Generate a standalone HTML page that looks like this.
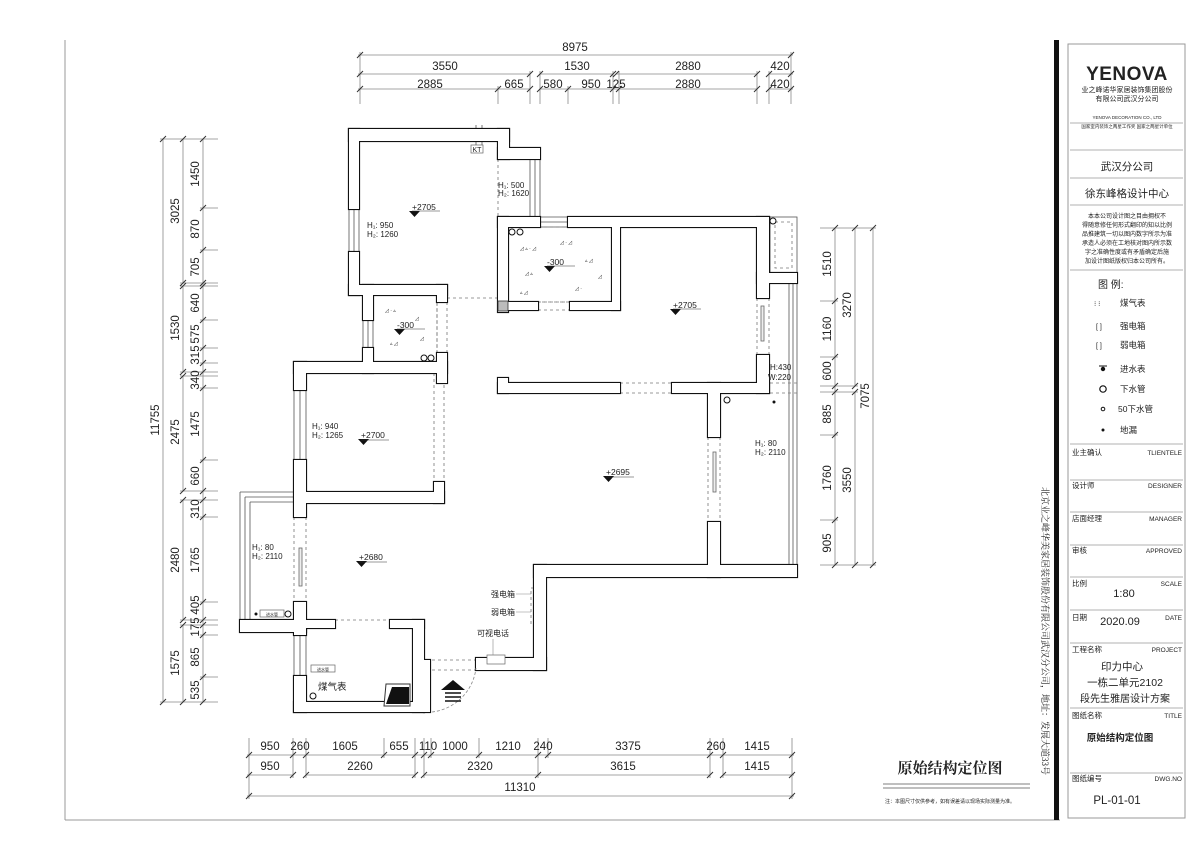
<!DOCTYPE html>
<html><head><meta charset="utf-8">
<style>
html,body{margin:0;padding:0;background:#fff;}
svg{display:block;}
text{font-family:"Liberation Sans","Noto Sans CJK SC",sans-serif;fill:#222;}
.s{font-family:"Liberation Serif","Noto Serif CJK SC",serif;}
</style></head><body>
<svg width="1200" height="848" viewBox="0 0 1200 848" xmlns="http://www.w3.org/2000/svg">
<rect width="1200" height="848" fill="#fff"/>
<!-- frame -->
<g stroke="#999" stroke-width="1" fill="none">
<line x1="65" y1="40" x2="65" y2="820"/>
<line x1="65" y1="820" x2="1060" y2="820"/>
<rect x="1068" y="44" width="117" height="774"/>
</g>
<rect x="1054" y="40" width="5" height="780" fill="#111"/>

<!-- TOP DIMENSIONS -->
<g stroke="#888" stroke-width="0.8" fill="none">
<line x1="358" y1="55" x2="793" y2="55"/>
<line x1="358" y1="74" x2="530" y2="74"/><line x1="540" y1="74" x2="613" y2="74"/><line x1="616" y1="74" x2="757" y2="74"/><line x1="769" y1="74" x2="793" y2="74"/>
<line x1="358" y1="89" x2="530" y2="89"/><line x1="540" y1="89" x2="619" y2="89"/><line x1="619" y1="89" x2="757" y2="89"/><line x1="769" y1="89" x2="793" y2="89"/>
<line x1="360" y1="52" x2="360" y2="104"/><line x1="791" y1="52" x2="791" y2="104"/>
<line x1="498" y1="86" x2="498" y2="104"/><line x1="530" y1="71" x2="530" y2="104"/><line x1="540" y1="71" x2="540" y2="104"/><line x1="568" y1="86" x2="568" y2="104"/><line x1="613" y1="71" x2="613" y2="104"/><line x1="619" y1="71" x2="619" y2="104"/><line x1="757" y1="71" x2="757" y2="104"/><line x1="769" y1="71" x2="769" y2="104"/>
</g>
<g stroke="#333" stroke-width="1">
<path d="M357 58l6-6M788 58l6-6M357 77l6-6M527 77l6-6M537 77l6-6M610 77l6-6M613 77l6-6M754 77l6-6M766 77l6-6M788 77l6-6M357 92l6-6M495 92l6-6M527 92l6-6M537 92l6-6M565 92l6-6M610 92l6-6M616 92l6-6M754 92l6-6M766 92l6-6M788 92l6-6"/>
</g>
<g font-size="11.5" text-anchor="middle">
<text x="575" y="51">8975</text>
<text x="445" y="70">3550</text><text x="577" y="70">1530</text><text x="688" y="70">2880</text><text x="780" y="70">420</text>
<text x="430" y="88">2885</text><text x="514" y="88">665</text><text x="553" y="88">580</text><text x="591" y="88">950</text><text x="616" y="88">125</text><text x="688" y="88">2880</text><text x="780" y="88">420</text>
</g>

<!-- LEFT DIMENSIONS -->
<g stroke="#888" stroke-width="0.8" fill="none">
<line x1="163" y1="139" x2="163" y2="702"/>
<line x1="183" y1="139" x2="183" y2="283"/><line x1="183" y1="286" x2="183" y2="372"/><line x1="183" y1="376" x2="183" y2="491"/><line x1="183" y1="500" x2="183" y2="620"/><line x1="183" y1="625" x2="183" y2="702"/>
<line x1="203" y1="139" x2="203" y2="702"/>
<path d="M160 139H218M160 702H218M180 283H218M180 286H218M180 372H218M180 376H218M180 491H218M180 500H218M180 620H218M180 625H218M200 208H218M200 250H218M200 320H218M200 348H218M200 363H218M200 388H218M200 460H218M200 517H218M200 602H218M200 635H218M200 677H218"/>
</g>
<g stroke="#333" stroke-width="1">
<path d="M160 142l6-6M160 705l6-6M180 142l6-6M180 286l6-6M180 289l6-6M180 375l6-6M180 379l6-6M180 494l6-6M180 503l6-6M180 623l6-6M180 628l6-6M180 705l6-6M200 142l6-6M200 211l6-6M200 253l6-6M200 286l6-6M200 289l6-6M200 323l6-6M200 351l6-6M200 366l6-6M200 375l6-6M200 391l6-6M200 463l6-6M200 494l6-6M200 503l6-6M200 520l6-6M200 605l6-6M200 623l6-6M200 628l6-6M200 638l6-6M200 680l6-6M200 705l6-6"/>
</g>
<g font-size="11.5" text-anchor="middle">
<text transform="translate(159,420) rotate(-90)">11755</text>
<text transform="translate(179,211) rotate(-90)">3025</text>
<text transform="translate(179,328) rotate(-90)">1530</text>
<text transform="translate(179,432) rotate(-90)">2475</text>
<text transform="translate(179,560) rotate(-90)">2480</text>
<text transform="translate(179,663) rotate(-90)">1575</text>
<text transform="translate(199,174) rotate(-90)">1450</text>
<text transform="translate(199,229) rotate(-90)">870</text>
<text transform="translate(199,267) rotate(-90)">705</text>
<text transform="translate(199,303) rotate(-90)">640</text>
<text transform="translate(199,334) rotate(-90)">575</text>
<text transform="translate(199,355) rotate(-90)">315</text>
<text transform="translate(199,380) rotate(-90)">340</text>
<text transform="translate(199,424) rotate(-90)">1475</text>
<text transform="translate(199,476) rotate(-90)">660</text>
<text transform="translate(199,509) rotate(-90)">310</text>
<text transform="translate(199,560) rotate(-90)">1765</text>
<text transform="translate(199,605) rotate(-90)">405</text>
<text transform="translate(199,627) rotate(-90)">175</text>
<text transform="translate(199,657) rotate(-90)">865</text>
<text transform="translate(199,690) rotate(-90)">535</text>
</g>

<!-- RIGHT DIMENSIONS -->
<g stroke="#888" stroke-width="0.8" fill="none">
<line x1="835" y1="228" x2="835" y2="565"/>
<line x1="855" y1="228" x2="855" y2="386"/><line x1="855" y1="392" x2="855" y2="565"/>
<line x1="873" y1="228" x2="873" y2="565"/>
<path d="M820 228H876M820 565H876M820 301H838M820 357H838M820 386H858M820 392H858M820 435H838M820 520H838"/>
</g>
<g stroke="#333" stroke-width="1">
<path d="M832 231l6-6M832 304l6-6M832 360l6-6M832 389l6-6M832 395l6-6M832 438l6-6M832 523l6-6M832 568l6-6M852 231l6-6M852 389l6-6M852 395l6-6M852 568l6-6M870 231l6-6M870 568l6-6"/>
</g>
<g font-size="11.5" text-anchor="middle">
<text transform="translate(831,264) rotate(-90)">1510</text>
<text transform="translate(831,329) rotate(-90)">1160</text>
<text transform="translate(831,371) rotate(-90)">600</text>
<text transform="translate(831,414) rotate(-90)">885</text>
<text transform="translate(831,478) rotate(-90)">1760</text>
<text transform="translate(831,543) rotate(-90)">905</text>
<text transform="translate(851,305) rotate(-90)">3270</text>
<text transform="translate(851,480) rotate(-90)">3550</text>
<text transform="translate(869,396) rotate(-90)">7075</text>
</g>

<!-- BOTTOM DIMENSIONS -->
<g stroke="#888" stroke-width="0.8" fill="none">
<line x1="247" y1="755" x2="794" y2="755"/>
<line x1="247" y1="775" x2="293" y2="775"/><line x1="306" y1="775" x2="415" y2="775"/><line x1="424" y1="775" x2="710" y2="775"/><line x1="723" y1="775" x2="794" y2="775"/>
<line x1="247" y1="796" x2="794" y2="796"/>
<path d="M249 738V799M792 738V799M293 738V778M306 738V778M384 738V758M415 738V778M424 738V778M431 738V758M479 738V758M538 738V778M548 738V758M710 738V778M723 738V778"/>
</g>
<g stroke="#333" stroke-width="1">
<path d="M246 758l6-6M290 758l6-6M303 758l6-6M381 758l6-6M412 758l6-6M421 758l6-6M428 758l6-6M476 758l6-6M535 758l6-6M545 758l6-6M707 758l6-6M720 758l6-6M789 758l6-6M246 778l6-6M290 778l6-6M303 778l6-6M412 778l6-6M421 778l6-6M535 778l6-6M707 778l6-6M720 778l6-6M789 778l6-6M246 799l6-6M789 799l6-6"/>
</g>
<g font-size="11.5" text-anchor="middle">
<text x="270" y="750">950</text><text x="300" y="750">260</text><text x="345" y="750">1605</text><text x="399" y="750">655</text><text x="428" y="750">110</text><text x="455" y="750">1000</text><text x="508" y="750">1210</text><text x="543" y="750">240</text><text x="628" y="750">3375</text><text x="716" y="750">260</text><text x="757" y="750">1415</text>
<text x="270" y="770">950</text><text x="360" y="770">2260</text><text x="480" y="770">2320</text><text x="623" y="770">3615</text><text x="757" y="770">1415</text>
<text x="520" y="791">11310</text>
</g>

<!-- THIN LINES: balconies, glass, shaft -->
<g stroke="#555" stroke-width="0.8" fill="none">
<path d="M789 283V565M793 283V565M797 283V565"/>
<rect x="770" y="217" width="27" height="56"/>
<path d="M240 492V620M245 497V620M250 502V620M240 492H294M245 497H294M250 502H294"/>
<path d="M530 159V217M535 159V217M540 159V217"/>
<path d="M540 217H568M540 222H568M540 227H568"/>
<path d="M349 209V252M354 209V252M359 209V252"/>
<path d="M363 320V348M368 320V348M373 320V348"/>
<path d="M294 390V460M300 390V460M306 390V460"/>
<path d="M294 635V676M300 635V676M306 635V676"/>
<path d="M476 125V145M482 125V145"/>
</g>
<g stroke="#777" stroke-width="0.8" fill="none" stroke-dasharray="3,3">
<path d="M498 159V217"/>
<path d="M447 298H498"/>
<path d="M437 302V353M447 302V353"/>
<path d="M434 373V482M444 373V482"/>
<path d="M294 517V602M306 517V602"/>
<path d="M538 302H570M538 310H570"/>
<path d="M620 383H672M620 393H672"/>
<path d="M770 383H797M770 393H797"/>
<path d="M708 437V522M720 437V522"/>
<path d="M757 298V355M769 298V355"/>
<path d="M335 620H390"/>
<path d="M432 660H476M432 670H476"/>
<rect x="508" y="227" width="104" height="75"/>
<rect x="373" y="295" width="64" height="68"/>
<rect x="775" y="222" width="17" height="46"/>
<rect x="531" y="588" width="6" height="36"/>
</g>
<!-- sliding door bars -->
<g stroke="#666" stroke-width="0.8" fill="#eee">
<rect x="761" y="306" width="3" height="35"/>
<rect x="713" y="452" width="3" height="40"/>
<rect x="299" y="548" width="3" height="38"/>
</g>
<!-- speckle -->
<g fill="#999" font-size="5">
<text x="520" y="250">◿ ▵ · ◿</text><text x="560" y="244">◿ · ◿</text><text x="585" y="262">▵ ◿</text><text x="525" y="275">◿ ▵</text><text x="575" y="290">◿ ·</text><text x="520" y="294">▵ ◿</text><text x="598" y="278">◿</text>
<text x="385" y="312">◿ · ▵</text><text x="415" y="320">◿</text><text x="390" y="345">▵ ◿</text><text x="420" y="340">◿</text>
</g>

<!-- WALLS: stroke pass then fill pass -->
<g stroke="#111" stroke-width="2.2" fill="#111">
<rect x="349" y="129" width="160" height="12"/>
<rect x="498" y="129" width="11" height="30"/>
<rect x="498" y="148" width="42" height="11"/>
<rect x="349" y="129" width="10" height="80"/>
<rect x="349" y="252" width="10" height="43"/>
<rect x="349" y="285" width="98" height="10"/>
<rect x="437" y="285" width="10" height="17"/>
<rect x="437" y="353" width="10" height="30"/>
<rect x="363" y="285" width="10" height="35"/>
<rect x="363" y="348" width="10" height="25"/>
<rect x="294" y="362" width="153" height="11"/>
<rect x="294" y="362" width="12" height="28"/>
<rect x="294" y="460" width="12" height="57"/>
<rect x="294" y="602" width="12" height="33"/>
<rect x="294" y="676" width="12" height="36"/>
<rect x="306" y="492" width="138" height="11"/>
<rect x="434" y="482" width="10" height="21"/>
<rect x="240" y="620" width="66" height="12"/>
<rect x="306" y="620" width="29" height="8"/>
<rect x="390" y="620" width="34" height="8"/>
<rect x="413" y="620" width="11" height="92"/>
<rect x="294" y="702" width="130" height="10"/>
<rect x="476" y="658" width="70" height="12"/>
<rect x="534" y="565" width="12" height="105"/>
<rect x="534" y="565" width="263" height="12"/>
<rect x="708" y="522" width="12" height="55"/>
<rect x="708" y="383" width="12" height="54"/>
<rect x="498" y="217" width="42" height="10"/>
<rect x="568" y="217" width="201" height="10"/>
<rect x="757" y="217" width="12" height="81"/>
<rect x="757" y="273" width="40" height="10"/>
<rect x="757" y="355" width="12" height="38"/>
<rect x="672" y="383" width="97" height="10"/>
<rect x="498" y="383" width="122" height="10"/>
<rect x="498" y="378" width="10" height="15"/>
<rect x="498" y="217" width="10" height="95"/>
<rect x="508" y="302" width="30" height="8"/>
<rect x="570" y="302" width="50" height="8"/>
<rect x="612" y="227" width="8" height="83"/>
<rect x="424" y="660" width="6" height="52"/>
</g>
<g fill="#fff">
<rect x="349" y="129" width="160" height="12"/>
<rect x="498" y="129" width="11" height="30"/>
<rect x="498" y="148" width="42" height="11"/>
<rect x="349" y="129" width="10" height="80"/>
<rect x="349" y="252" width="10" height="43"/>
<rect x="349" y="285" width="98" height="10"/>
<rect x="437" y="285" width="10" height="17"/>
<rect x="437" y="353" width="10" height="30"/>
<rect x="363" y="285" width="10" height="35"/>
<rect x="363" y="348" width="10" height="25"/>
<rect x="294" y="362" width="153" height="11"/>
<rect x="294" y="362" width="12" height="28"/>
<rect x="294" y="460" width="12" height="57"/>
<rect x="294" y="602" width="12" height="33"/>
<rect x="294" y="676" width="12" height="36"/>
<rect x="306" y="492" width="138" height="11"/>
<rect x="434" y="482" width="10" height="21"/>
<rect x="240" y="620" width="66" height="12"/>
<rect x="306" y="620" width="29" height="8"/>
<rect x="390" y="620" width="34" height="8"/>
<rect x="413" y="620" width="11" height="92"/>
<rect x="294" y="702" width="130" height="10"/>
<rect x="476" y="658" width="70" height="12"/>
<rect x="534" y="565" width="12" height="105"/>
<rect x="534" y="565" width="263" height="12"/>
<rect x="708" y="522" width="12" height="55"/>
<rect x="708" y="383" width="12" height="54"/>
<rect x="498" y="217" width="42" height="10"/>
<rect x="568" y="217" width="201" height="10"/>
<rect x="757" y="217" width="12" height="81"/>
<rect x="757" y="273" width="40" height="10"/>
<rect x="757" y="355" width="12" height="38"/>
<rect x="672" y="383" width="97" height="10"/>
<rect x="498" y="383" width="122" height="10"/>
<rect x="498" y="378" width="10" height="15"/>
<rect x="498" y="217" width="10" height="95"/>
<rect x="508" y="302" width="30" height="8"/>
<rect x="570" y="302" width="50" height="8"/>
<rect x="612" y="227" width="8" height="83"/>
<rect x="424" y="660" width="6" height="52"/>
</g>
<rect x="498" y="301" width="10" height="10" fill="#bbb" stroke="#333" stroke-width="0.8"/>

<!-- door arc, entrance -->
<path d="M432 712 A50 50 0 0 0 476 668" stroke="#888" stroke-width="0.8" fill="none" stroke-dasharray="3,2"/>
<path d="M441 690 L453 680 L465 690 Z" fill="#111"/>
<g stroke="#111" stroke-width="1.6"><path d="M445 693H461M445 697H461M445 701H461"/></g>
<path d="M386 684H410V706H384Z" fill="#fff" stroke="#333"/>
<path d="M392 687H409V704H386Z" fill="#111"/>

<!-- pipes/circles -->
<g fill="none" stroke="#111" stroke-width="1">
<circle cx="512" cy="232" r="3"/><circle cx="520" cy="232" r="3"/>
<circle cx="424" cy="358" r="3"/><circle cx="431" cy="358" r="3"/>
<circle cx="773" cy="221" r="3"/><circle cx="727" cy="400" r="3"/>
<circle cx="313" cy="696" r="3"/><circle cx="288" cy="614" r="3"/>
</g>
<circle cx="774" cy="402" r="1.5" fill="#111"/><circle cx="256" cy="614" r="1.5" fill="#111"/>
<g stroke="#666" stroke-width="0.7" fill="#fff">
<rect x="260" y="610" width="24" height="7"/>
<rect x="311" y="665" width="24" height="7"/>
<rect x="471" y="145" width="12" height="8"/>
<rect x="487" y="655" width="18" height="9"/>
</g>
<g font-size="4" text-anchor="middle"><text x="272" y="616">进水管</text><text x="323" y="671">进水管</text></g>
<text x="477" y="152" font-size="7" text-anchor="middle">KT</text>

<!-- elevation markers -->
<g fill="#111">
<path d="M409 211h11l-5.5 6z"/><path d="M544 266h11l-5.5 6z"/><path d="M670 309h11l-5.5 6z"/>
<path d="M394 329h11l-5.5 6z"/><path d="M358 439h11l-5.5 6z"/><path d="M603 476h11l-5.5 6z"/><path d="M356 561h11l-5.5 6z"/>
</g>
<g font-size="8.5">
<text x="412" y="210">+2705</text><text x="547" y="265">-300</text><text x="673" y="308">+2705</text>
<text x="397" y="328">-300</text><text x="361" y="438">+2700</text><text x="606" y="475">+2695</text><text x="359" y="560">+2680</text>
</g>
<g stroke="#333" stroke-width="0.6"><path d="M412 211H440M547 266H575M673 309H701M397 329H425M361 440H389M606 477H634M359 562H387"/></g>
<g font-size="8">
<text x="498" y="188">H₁: 500</text><text x="498" y="196">H₂: 1620</text>
<text x="367" y="228">H₁: 950</text><text x="367" y="237">H₂: 1260</text>
<text x="312" y="429">H₁: 940</text><text x="312" y="438">H₂: 1265</text>
<text x="755" y="446">H₁: 80</text><text x="755" y="455">H₂: 2110</text>
<text x="252" y="550">H₁: 80</text><text x="252" y="559">H₂: 2110</text>
<text x="770" y="370">H:430</text><text x="768" y="380">W:220</text>
</g>
<g font-size="8">
<text x="491" y="597">强电箱</text><text x="491" y="615">弱电箱</text><text x="477" y="636">可视电话</text>
<text x="318" y="690" font-size="9.5">煤气表</text>
</g>
<g stroke="#888" stroke-width="0.6"><path d="M516 594H531M516 612H531M493 639V655"/></g>

<!-- bottom center title -->
<text x="950" y="773" font-size="15" font-weight="bold" text-anchor="middle" class="s">原始结构定位图</text>
<g stroke="#555" stroke-width="0.8"><path d="M883 784H1030M883 788H1030"/></g>
<text x="885" y="803" font-size="5">注：本图尺寸仅供参考，如有误差请以现场实际测量为准。</text>

<!-- vertical company text -->
<text transform="translate(1042,487) rotate(90)" font-size="9" class="s">北京业之峰华美家居装饰股份有限公司武汉分公司，地址：发展大道33号</text>

<!-- TITLE BLOCK -->
<text x="1127" y="80" font-size="19" font-weight="bold" text-anchor="middle" letter-spacing="0.5">YENOVA</text>
<g font-size="7" text-anchor="middle" class="s">
<text x="1127" y="92">业之峰诺华家居装饰集团股份</text>
<text x="1127" y="101">有限公司武汉分公司</text>
<text x="1127" y="119" font-size="4.5">YENOVA DECORATION CO., LTD</text>
<text x="1127" y="128" font-size="4.5">国家室内装饰之两星工作奖 国家之两星计单位</text>
</g>
<g stroke="#999" stroke-width="0.8"><path d="M1070 123H1183M1070 150H1183M1070 178H1183M1070 205H1183M1070 270H1183M1070 444H1183M1070 480H1183M1070 512H1183M1070 545H1183M1070 577H1183M1070 610H1183M1070 643H1183M1070 708H1183M1070 773H1183"/></g>
<g class="s" fill="#222">
<text x="1127" y="170" font-size="10.5" text-anchor="middle">武汉分公司</text>
<text x="1127" y="197" font-size="10.5" text-anchor="middle">徐东峰格设计中心</text>
<g font-size="6" text-anchor="middle">
<text x="1127" y="218">本本公司设计图之目由拥权不</text>
<text x="1127" y="227">得随意修任何形式翻印的知以比例</text>
<text x="1127" y="236">品推建筑一切以图内数字所示为准</text>
<text x="1127" y="245">承造人必须在工地核对图内所示数</text>
<text x="1127" y="254">字之准确性度或有矛盾确定后施</text>
<text x="1127" y="263">加设计图纸版权归本公司所有。</text>
</g>
<text x="1098" y="288" font-size="10">图 例:</text>
<g font-size="8.5">
<text x="1120" y="306">煤气表</text><text x="1120" y="329">强电箱</text><text x="1120" y="348">弱电箱</text>
<text x="1120" y="372">进水表</text><text x="1120" y="392">下水管</text><text x="1118" y="412">50下水管</text><text x="1120" y="433">地漏</text>
</g>
<g font-size="7" fill="#555"><text x="1094" y="306">⁝ ⁝</text><text x="1096" y="329">[ ]</text><text x="1096" y="348">[ ]</text></g>
<circle cx="1103" cy="369" r="2.2" fill="#111"/><path d="M1099 366H1107" stroke="#111"/>
<circle cx="1103" cy="389" r="3.2" fill="none" stroke="#111" stroke-width="1.2"/>
<circle cx="1103" cy="409" r="1.8" fill="none" stroke="#111"/>
<circle cx="1103" cy="430" r="1.5" fill="#111"/>
<g font-size="7.5">
<text x="1072" y="455">业主确认</text><text x="1182" y="455" text-anchor="end" font-size="6.5">TLIENTELE</text>
<text x="1072" y="488">设计师</text><text x="1182" y="488" text-anchor="end" font-size="6.5">DESIGNER</text>
<text x="1072" y="521">店面经理</text><text x="1182" y="521" text-anchor="end" font-size="6.5">MANAGER</text>
<text x="1072" y="553">审核</text><text x="1182" y="553" text-anchor="end" font-size="6.5">APPROVED</text>
<text x="1072" y="586">比例</text><text x="1182" y="586" text-anchor="end" font-size="6.5">SCALE</text>
<text x="1072" y="620">日期</text><text x="1182" y="620" text-anchor="end" font-size="6.5">DATE</text>
<text x="1072" y="652">工程名称</text><text x="1182" y="652" text-anchor="end" font-size="6.5">PROJECT</text>
<text x="1072" y="718">图纸名称</text><text x="1182" y="718" text-anchor="end" font-size="6.5">TITLE</text>
<text x="1072" y="781">图纸编号</text><text x="1182" y="781" text-anchor="end" font-size="6.5">DWG.NO</text>
</g>
<text x="1124" y="597" font-size="11" text-anchor="middle" font-family="Liberation Mono,monospace">1:80</text>
<text x="1120" y="625" font-size="11" text-anchor="middle" font-family="Liberation Mono,monospace">2020.09</text>
<text x="1122" y="670" font-size="10.5" text-anchor="middle">印力中心</text>
<text x="1125" y="686" font-size="10.5" text-anchor="middle">一栋二单元2102</text>
<text x="1125" y="702" font-size="10" text-anchor="middle">段先生雅居设计方案</text>
<text x="1120" y="741" font-size="9.5" text-anchor="middle" font-weight="bold">原始结构定位图</text>
<text x="1117" y="804" font-size="11.5" text-anchor="middle" font-family="Liberation Mono,monospace">PL-01-01</text>
</g>
</svg>
</body></html>
